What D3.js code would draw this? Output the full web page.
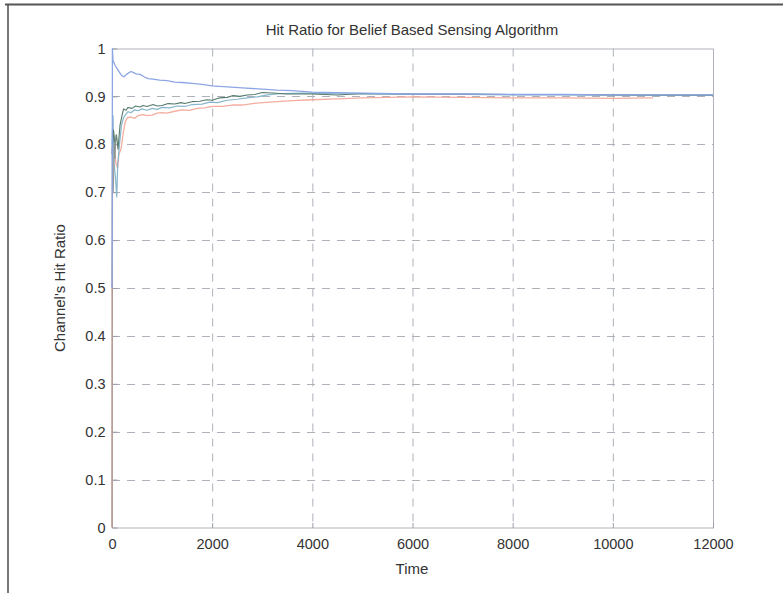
<!DOCTYPE html>
<html>
<head>
<meta charset="utf-8">
<script src="https://cdn.jsdelivr.net/npm/d3@7"></script>
<style>
  html, body { margin: 0; padding: 0; background: #fff; }
  svg { display: block; }
  text { font-family: "Liberation Sans", Arial, sans-serif; fill: #333; }
</style>
</head>
<body>
<svg id="chart" width="783" height="593"></svg>
<script>
// Axis ticks
const xTicks = [0, 2000, 4000, 6000, 8000, 10000, 12000];
const yTicks = [0, 0.1, 0.2, 0.3, 0.4, 0.5, 0.6, 0.7, 0.8, 0.9, 1];

// Running hit ratio per channel: [time, ratio]
const channelA = [ // upper blue channel
  [0, 0.50], [4, 0.62], [8, 1.00], [20, 0.975], [60, 0.965], [120, 0.955],
  [170, 0.947], [200, 0.943], [240, 0.941], [290, 0.946], [330, 0.949],
  [380, 0.952], [420, 0.950], [480, 0.947], [560, 0.946], [640, 0.941],
  [720, 0.937], [820, 0.936], [950, 0.934], [1100, 0.933], [1250, 0.930],
  [1400, 0.929], [1600, 0.927], [1800, 0.925], [2000, 0.922], [2300, 0.920],
  [2600, 0.918], [3000, 0.915], [3300, 0.913], [3600, 0.912], [4000, 0.909],
  [4500, 0.908], [5000, 0.907], [6000, 0.905], [7000, 0.905], [8000, 0.904],
  [9000, 0.904], [10000, 0.903], [11000, 0.903], [12000, 0.903]
];
const channelB = [ // dark teal channel
  [0, 0.78], [30, 0.83], [60, 0.80], [90, 0.82], [120, 0.79], [160, 0.84],
  [200, 0.86], [230, 0.874], [280, 0.871], [320, 0.877], [400, 0.875],
  [470, 0.880], [560, 0.878], [620, 0.881], [700, 0.879], [820, 0.883],
  [900, 0.880], [1000, 0.881], [1120, 0.885], [1250, 0.884], [1380, 0.887],
  [1450, 0.885], [1600, 0.889], [1750, 0.890], [1900, 0.893], [2000, 0.892],
  [2150, 0.897], [2300, 0.898], [2420, 0.902], [2550, 0.900], [2700, 0.903],
  [2850, 0.904], [3000, 0.908], [3200, 0.907], [3500, 0.905], [4000, 0.905],
  [4500, 0.903], [5000, 0.906], [6000, 0.905], [7000, 0.905], [8000, 0.904],
  [9000, 0.904], [10000, 0.903], [11000, 0.903], [12000, 0.903]
];
const channelC = [ // light teal channel
  [0, 0.80], [20, 0.86], [40, 0.76], [70, 0.73], [95, 0.69], [115, 0.76],
  [150, 0.80], [190, 0.84], [230, 0.855], [270, 0.862], [320, 0.868],
  [380, 0.866], [450, 0.872], [520, 0.870], [600, 0.874], [700, 0.871],
  [800, 0.875], [900, 0.873], [1000, 0.877], [1150, 0.876], [1300, 0.880],
  [1450, 0.879], [1600, 0.883], [1800, 0.884], [1950, 0.888], [2100, 0.887],
  [2300, 0.892], [2500, 0.894], [2700, 0.897], [2900, 0.899], [3100, 0.903],
  [3400, 0.906], [3800, 0.907], [4300, 0.906], [5000, 0.905], [6000, 0.904],
  [7000, 0.904], [8000, 0.903], [9000, 0.903], [10000, 0.903], [11000, 0.902],
  [12000, 0.902]
];
const channelD = [ // pink channel
  [0, 0.00], [4, 0.50], [10, 0.70], [20, 0.80], [50, 0.78], [80, 0.76],
  [110, 0.75], [140, 0.78], [180, 0.79], [220, 0.82], [260, 0.845],
  [300, 0.855], [380, 0.857], [450, 0.854], [520, 0.860], [620, 0.862],
  [700, 0.860], [800, 0.861], [900, 0.865], [1000, 0.866], [1100, 0.865],
  [1250, 0.869], [1400, 0.872], [1550, 0.871], [1700, 0.875], [1850, 0.876],
  [2000, 0.879], [2200, 0.879], [2400, 0.882], [2600, 0.882], [2800, 0.885],
  [3000, 0.887], [3300, 0.889], [3600, 0.891], [4000, 0.893], [4500, 0.895],
  [5000, 0.897], [6000, 0.899], [7000, 0.898], [8000, 0.897], [9000, 0.897],
  [10000, 0.896], [10800, 0.897]
];
const channelE = [ // dark grey start-up trace
  [0, 0.00], [3, 0.45], [6, 0.80], [12, 0.74], [20, 0.70], [30, 0.72],
  [45, 0.80], [60, 0.77], [80, 0.82]
];

const series = [
  { data: channelD, color: "#f4ad9f", width: 1.3 },
  { data: channelC, color: "#86b6cb", width: 1.2 },
  { data: channelB, color: "#557a6e", width: 1.1 },
  { data: channelE, color: "#8e9490", width: 1.0 },
  { data: channelA, color: "#8ca5e4", width: 1.3 }
];

const svg = d3.select("#chart");
const W = 783, H = 593;
const m = { left: 112, right: W - 713, top: 48.5, bottom: H - 527.5 };
const innerW = W - m.left - m.right, innerH = H - m.top - m.bottom;

// Page frame
svg.append("line").attr("x1", 5).attr("x2", W).attr("y1", 4.5).attr("y2", 4.5)
  .attr("stroke", "#555").attr("stroke-width", 2);
svg.append("line").attr("x1", 8).attr("x2", 8).attr("y1", 4).attr("y2", H)
  .attr("stroke", "#555").attr("stroke-width", 1.6);

const x = d3.scaleLinear().domain([0, 12000]).range([m.left, m.left + innerW]);
const y = d3.scaleLinear().domain([0, 1]).range([m.top + innerH, m.top]);

// Dashed grid
const grid = svg.append("g").attr("stroke", "#aeb1ba").attr("stroke-width", 1)
  .attr("stroke-dasharray", "8,7");
grid.selectAll("line.gx").data(xTicks.slice(1, -1)).join("line")
  .attr("x1", d => x(d) + 0.5).attr("x2", d => x(d) + 0.5)
  .attr("y1", m.top).attr("y2", m.top + innerH);
grid.selectAll("line.gy").data(yTicks.slice(1, -1)).join("line")
  .attr("x1", m.left).attr("x2", m.left + innerW)
  .attr("y1", d => Math.round(y(d)) + 0.5).attr("y2", d => Math.round(y(d)) + 0.5);

// Plot box
svg.append("rect").attr("x", m.left + 0.5).attr("y", m.top + 0.5)
  .attr("width", innerW).attr("height", innerH)
  .attr("fill", "none").attr("stroke", "#b0b3bb").attr("stroke-width", 1);

// Axes with inward ticks
const xAxis = svg.append("g").attr("transform", `translate(0,${m.top + innerH + 0.5})`)
  .call(d3.axisBottom(x).tickValues(xTicks).tickFormat(d3.format("d"))
    .tickSizeInner(-5).tickSizeOuter(0).tickPadding(11));
const yAxis = svg.append("g").attr("transform", `translate(${m.left + 0.5},0)`)
  .call(d3.axisLeft(y).tickValues(yTicks).tickFormat(d => d3.format("")(+d.toFixed(1)))
    .tickSizeInner(-5).tickSizeOuter(0).tickPadding(7));
[xAxis, yAxis].forEach(a => {
  a.select(".domain").remove();
  a.selectAll(".tick line").attr("stroke", "#9a9ea8");
  a.selectAll(".tick text").attr("font-size", 14.5).attr("fill", "#333")
    .attr("font-family", "Liberation Sans, Arial, sans-serif");
});

// Lines
const line = d3.line().x(d => x(d[0])).y(d => y(d[1]));
const plot = svg.append("g");
plot.selectAll("path").data(series).join("path")
  .attr("d", s => line(s.data))
  .attr("fill", "none")
  .attr("stroke", s => s.color)
  .attr("stroke-width", s => s.width)
  .attr("stroke-linejoin", "round");

// Labels
svg.append("text").attr("x", 412).attr("y", 35).attr("text-anchor", "middle")
  .attr("font-size", 15).text("Hit Ratio for Belief Based Sensing Algorithm");
svg.append("text").attr("x", 412).attr("y", 574).attr("text-anchor", "middle")
  .attr("font-size", 15).text("Time");
svg.append("text").attr("transform", "translate(65,288) rotate(-90)")
  .attr("text-anchor", "middle").attr("font-size", 15).text("Channel's Hit Ratio");
</script>
</body>
</html>
